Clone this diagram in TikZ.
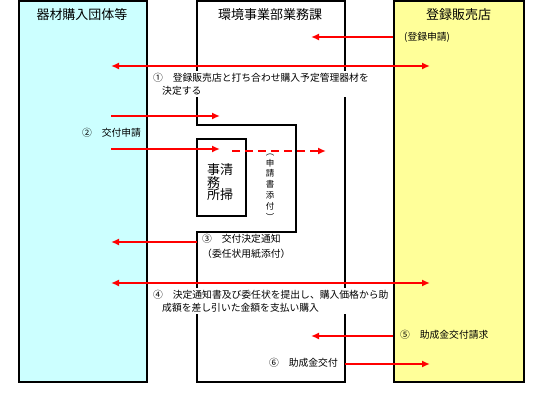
\documentclass[tikz,border=0pt]{standalone}
\usepackage{fontspec}
\setmainfont{Noto Sans CJK JP}
\usetikzlibrary{arrows.meta}

\definecolor{kizaicol}{HTML}{CCFFFF}
\definecolor{tenpocol}{HTML}{FFFF99}

\begin{document}
\begin{tikzpicture}[
    x=1pt, y=-1pt,
    colbox/.style={rectangle, draw, line width=2pt, minimum height=381pt, inner sep=0pt},
    heading/.style={font=\fontsize{13pt}{15pt}\selectfont, inner sep=0pt},
    lbl/.style={font=\fontsize{9.8pt}{13pt}\selectfont, inner sep=0pt, align=left},
    cover/.style={lbl, fill=white, inner sep=2pt},
    flow/.style={-{Latex[length=8pt,width=7pt]}, red, line width=2.2pt},
    thickflow/.style={flow, line width=2.8pt},
    bothflow/.style={{Latex[length=8pt,width=7pt]}-{Latex[length=8pt,width=7pt]}, red, line width=2.8pt},
    dashflow/.style={flow, dash pattern=on 8pt off 5pt}
]
\fill[white] (0,0) rectangle (547,406);
\useasboundingbox (0,0) rectangle (547,406);

% --- columns ---
\node[colbox, fill=kizaicol, minimum width=128pt] (kizai) at (83,191.5) {};
\node[colbox, fill=tenpocol, minimum width=130pt] (tenpo) at (459,191.5) {};
\draw[line width=1.8pt] (197,125) -- (197,1) -- (345,1) -- (345,382) -- (197,382)
    -- (197,232) -- (296,232) -- (296,125) -- cycle;
\node[draw, line width=1.3pt, minimum width=49pt, minimum height=77pt, inner sep=0pt] (seiso) at (221.5,177.5) {};

\node[heading] (kizaiT) at (82,15) {器材購入団体等};
\node[heading] (kankyoT) at (270,15) {環境事業部業務課};
\node[heading] (tenpoT) at (458.5,15) {登録販売店};

% --- end points ---
\coordinate (r1) at (393,37);  \coordinate (r2) at (311,37);
\coordinate (a1) at (111,66);  \coordinate (b1) at (430,66);
\coordinate (a2) at (111,116); \coordinate (b2) at (220,116);
\coordinate (a3) at (111,149); \coordinate (b3) at (220,149);
\coordinate (d1) at (232,151); \coordinate (d2) at (326,151);
\coordinate (a4) at (197,242); \coordinate (b4) at (111,242);
\coordinate (a5) at (111,283); \coordinate (b5) at (430,283);
\coordinate (a6) at (393,336); \coordinate (b6) at (311,336);
\coordinate (a7) at (345,364); \coordinate (b7) at (430,364);

\draw[flow] (r1) -- (r2);
\draw[bothflow] (a1) -- (b1);
\draw[flow] (a2) -- (b2);
\draw[flow] (a3) -- (b3);
\draw[dashflow] (d1) -- (d2);
\draw[flow] (a4) -- (b4);
\draw[bothflow] (a5) -- (b5);
\draw[thickflow] (a6) -- (b6);
\draw[flow] (a7) -- (b7);

% --- labels ---
\node[font=\fontsize{13pt}{12pt}\selectfont, inner sep=0pt, align=left, anchor=west] (seisoT) at (207,182) {事清\\務\\所掃};
\node[font=\fontsize{8.5pt}{10.8pt}\selectfont, inner sep=0pt, align=center] (tenpuT) at (270,187) {︵\\申\\請\\書\\添\\付\\︶};

\node[lbl, anchor=west] (regL) at (404,37) {(登録申請)};
\node[cover, anchor=west] (step1) at (151,84) {①　登録販売店と打ち合わせ購入予定管理器材を\\\hspace*{9pt}決定する};
\node[lbl, anchor=west] (step2) at (82,133) {②　交付申請};
\node[lbl, font=\fontsize{9.8pt}{15pt}\selectfont, anchor=north west] (step3) at (202,234) {③　交付決定通知\\（委任状用紙添付）};
\node[cover, anchor=west] (step4) at (151,301) {④　決定通知書及び委任状を提出し、購入価格から助\\\hspace*{9pt}成額を差し引いた金額を支払い購入};
\node[lbl, anchor=west] (step5) at (400,335) {⑤　助成金交付請求};
\node[lbl, anchor=west] (step6) at (269,363) {⑥　助成金交付};

\end{tikzpicture}
\end{document}
